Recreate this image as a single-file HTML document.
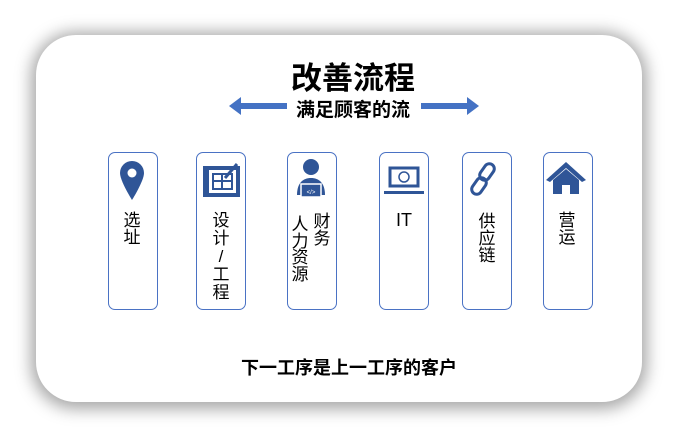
<!DOCTYPE html>
<html><head><meta charset="utf-8"><style>
body{margin:0;width:678px;height:438px;background:#fff;position:relative;overflow:hidden;font-family:"Liberation Sans","Noto Sans CJK SC",sans-serif;}
.card{position:absolute;left:36px;top:35px;width:606px;height:367px;border-radius:40px;background:#fff;box-shadow:0 2px 16px 5px rgba(0,0,0,0.35);}
.t{position:absolute;color:#000;white-space:nowrap;}
.box{position:absolute;top:152px;width:48px;height:156px;border:1px solid #4a72c4;border-radius:7px;background:#fff;}
.v{position:absolute;font-size:17px;line-height:17px;width:18px;text-align:center;color:#000;}
</style></head><body>
<div class="card"></div>
<div class="t" style="left:291px;top:53px;font-size:31px;font-weight:bold;">改善流程</div>
<div class="t" style="left:296px;top:95px;font-size:19px;font-weight:bold;">满足顾客的流</div>
<svg style="position:absolute;left:0;top:0" width="678" height="438">
<rect x="239" y="103" width="48" height="6" fill="#4472c4"/>
<polygon points="229,106 241,97 241,115" fill="#4472c4"/>
<rect x="421" y="103" width="48" height="6" fill="#4472c4"/>
<polygon points="479,106 467,97 467,115" fill="#4472c4"/>
</svg>
<div class="box" style="left:108px"></div>
<div class="box" style="left:196px"></div>
<div class="box" style="left:287px"></div>
<div class="box" style="left:379px"></div>
<div class="box" style="left:462px"></div>
<div class="box" style="left:543px"></div>
<svg style="position:absolute;left:0;top:0" width="678" height="438">
<path d="M132,161 a12,12 0 0 1 12,12 c0,8 -12,27 -12,27 c0,0 -12,-19 -12,-27 a12,12 0 0 1 12,-12z" fill="#2f5597"/>
<circle cx="132" cy="173" r="4.5" fill="#fff"/>
<rect x="203" y="166" width="37" height="31" fill="#2f5597"/>
<rect x="209" y="170" width="27" height="23" fill="#fff"/>
<rect x="213" y="174" width="19" height="15" fill="none" stroke="#2f5597" stroke-width="2"/>
<line x1="222" y1="174" x2="222" y2="189" stroke="#2f5597" stroke-width="2"/>
<line x1="213" y1="181" x2="232" y2="181" stroke="#2f5597" stroke-width="2"/>
<line x1="225" y1="178" x2="237" y2="164" stroke="#2f5597" stroke-width="3"/>
<circle cx="311" cy="167" r="8" fill="#2f5597"/>
<path d="M297,195 c0,-12 6,-17 14,-17 c8,0 14,5 14,17z" fill="#2f5597"/>
<rect x="301" y="184" width="20" height="13" fill="#2f5597" stroke="#fff" stroke-width="1.5"/>
<text x="311" y="194" font-size="6" fill="#fff" text-anchor="middle" font-family="Liberation Sans">&lt;/&gt;</text>
<rect x="390" y="168" width="28" height="18" fill="none" stroke="#2f5597" stroke-width="3"/>
<rect x="384" y="191" width="40" height="3" fill="#2f5597"/>
<circle cx="404" cy="177" r="5" fill="none" stroke="#2f5597" stroke-width="1.5"/>
<g fill="none" stroke="#2f5597" stroke-width="3">
<rect x="482" y="163" width="10" height="18" rx="5" transform="rotate(35 487 172)"/>
<rect x="474" y="177" width="10" height="18" rx="5" transform="rotate(35 479 186)"/>
</g>
<polygon points="566,162 546,180 550,182 566,168 582,182 586,180" fill="#2f5597"/>
<path d="M553,180 L566,169 L579,180 L579,194 L570,194 L570,185 L562,185 L562,194 L553,194z" fill="#2f5597"/>
</svg>
<div class="v" style="left:123px;top:212px">选址</div>
<div class="v" style="left:212px;top:212px;line-height:18px">设计<br>/<br>工程</div>
<div class="v" style="left:313px;top:214px;line-height:16.5px">财务</div>
<div class="v" style="left:291px;top:217px;line-height:16.5px">人力资源</div>
<div class="t" style="left:396px;top:210px;font-size:18px">IT</div>
<div class="v" style="left:478px;top:213px">供应链</div>
<div class="v" style="left:558px;top:212px">营运</div>
<div class="t" style="left:241px;top:354px;font-size:18px;font-weight:bold;">下一工序是上一工序的客户</div>
</body></html>
